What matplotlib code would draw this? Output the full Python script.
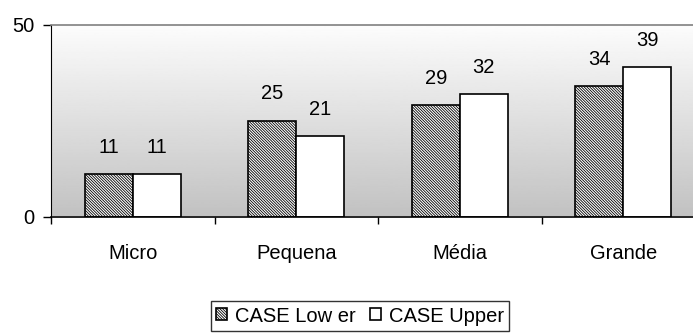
import matplotlib
matplotlib.use("Agg")
import matplotlib.pyplot as plt
import numpy as np

plt.rcParams['font.family'] = ['Liberation Sans', 'DejaVu Sans']
plt.rcParams['hatch.linewidth'] = 0.6

categories = ['Micro', 'Pequena', 'Média', 'Grande']
lower = [11, 25, 29, 34]
upper = [11, 21, 32, 39]
series_names = ['CASE Low er', 'CASE Upper']

fig = plt.figure(figsize=(6.93, 3.34), dpi=100)
# plot area runs past the right edge of the picture
ax = fig.add_axes([51 / 693, 1 - 216.5 / 334, 654 / 693, 191.5 / 334])

x = np.arange(len(categories))
w = 0.293

# gradient background
grad = np.linspace(0.76, 0.99, 256).reshape(-1, 1)
ax.imshow(grad, cmap='gray', vmin=0, vmax=1, aspect='auto',
          extent=[-0.5, len(categories) - 0.5, 0, 50], origin='lower', zorder=0)

b1 = ax.bar(x - w / 2, lower, w, facecolor='white', edgecolor='black',
            hatch='\\' * 12, linewidth=1.2, label=series_names[0], zorder=2)
b2 = ax.bar(x + w / 2, upper, w, facecolor='white', edgecolor='black',
            linewidth=1.2, label=series_names[1], zorder=2)

for bars, vals in ((b1, lower), (b2, upper)):
    for rect, v in zip(bars, vals):
        ax.text(rect.get_x() + rect.get_width() / 2, v + 7, str(v),
                ha='center', va='center', fontsize=14.5)

ax.set_xlim(-0.5, len(categories) - 0.5)
ax.set_ylim(0, 50)
ax.set_yticks([0, 50])
ax.set_yticklabels(['0', '50'], fontsize=14.5)
ax.set_xticks(np.arange(len(categories) + 1) - 0.5, minor=False)
ax.set_xticklabels([])
ax.set_xticks(x, minor=True)
ax.set_xticklabels(categories, minor=True, fontsize=14.5)
ax.tick_params(axis='x', which='minor', length=0, pad=20)
ax.tick_params(axis='x', which='major', direction='out', length=5, width=1)
ax.tick_params(axis='y', direction='out', length=6, width=1, pad=6)

ax.spines['top'].set_color('#808080')
ax.spines['top'].set_linewidth(1.2)
ax.spines['right'].set_visible(False)
ax.spines['left'].set_color('black')
ax.spines['bottom'].set_color('black')
ax.spines['bottom'].set_linewidth(1.2)

leg = fig.legend(handles=[b1, b2], loc='center', bbox_to_anchor=(360 / 693, 1 - 316 / 334),
                 ncol=2, frameon=True, fancybox=False, edgecolor='black',
                 fontsize=14.5, handlelength=0.55, handleheight=0.55, handletextpad=0.4,
                 columnspacing=0.7, borderpad=0.25, borderaxespad=0)
leg.get_frame().set_linewidth(1.0)

fig.savefig('out.png', dpi=100)
